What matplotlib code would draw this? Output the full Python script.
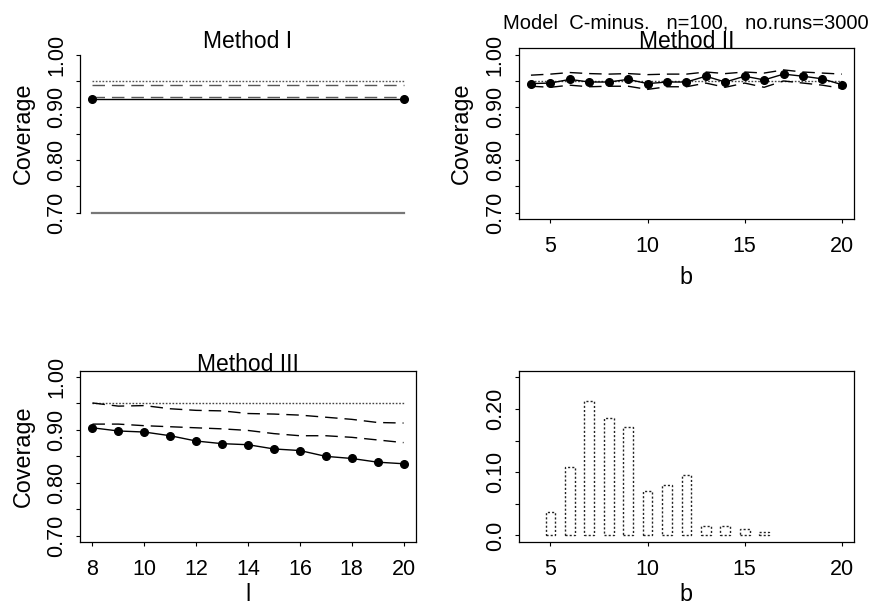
import matplotlib
matplotlib.use("Agg")
import matplotlib.pyplot as plt
import numpy as np

plt.rcParams['font.family'] = ['Liberation Sans', 'DejaVu Sans']

# ---------------- data ----------------
main_title = "Model  C-minus.   n=100,   no.runs=3000"
titles = ["Method I", "Method II", "Method III"]

# Method I (constant over l)
l_I = [8, 20]
nominal_I = [0.95, 0.95]
upper_I = [0.942, 0.942]
lower_I = [0.920, 0.920]
cov_I = [0.916, 0.916]
base_I = [0.70, 0.70]

# Method II (over b)
b_II = [4, 5, 6, 7, 8, 9, 10, 11, 12, 13, 14, 15, 16, 17, 18, 19, 20]
cov_II = [0.945, 0.946, 0.953, 0.948, 0.948, 0.953, 0.945, 0.948, 0.948,
          0.959, 0.948, 0.959, 0.952, 0.963, 0.959, 0.954, 0.943]
upper_II = [0.961, 0.963, 0.966, 0.964, 0.963, 0.964, 0.962, 0.963, 0.963,
            0.967, 0.964, 0.967, 0.965, 0.971, 0.967, 0.965, 0.963]
lower_II = [0.940, 0.938, 0.942, 0.939, 0.940, 0.940, 0.934, 0.939, 0.939,
            0.946, 0.938, 0.946, 0.938, 0.950, 0.946, 0.942, 0.936]
nominal_II = [0.95] * 17

# Method III (over l)
l_III = [8, 9, 10, 11, 12, 13, 14, 15, 16, 17, 18, 19, 20]
cov_III = [0.904, 0.898, 0.896, 0.889, 0.879, 0.874, 0.872, 0.864, 0.861,
           0.850, 0.846, 0.839, 0.836]
upper_III = [0.951, 0.945, 0.946, 0.940, 0.937, 0.936, 0.931, 0.930, 0.928,
             0.924, 0.920, 0.914, 0.913]
lower_III = [0.911, 0.911, 0.908, 0.906, 0.904, 0.902, 0.899, 0.893, 0.889,
             0.889, 0.886, 0.881, 0.876]
nominal_III = [0.95] * 13

# Frequency of chosen b
b_freq = [4, 5, 6, 7, 8, 9, 10, 11, 12, 13, 14, 15, 16, 17, 18, 19, 20]
freq = [0.0, 0.037, 0.108, 0.212, 0.185, 0.171, 0.070, 0.080, 0.095,
        0.015, 0.015, 0.010, 0.005, 0.0, 0.0, 0.0, 0.0]

cov_ticks = [0.70, 0.75, 0.80, 0.85, 0.90, 0.95, 1.00]
cov_ticklabels = ["0.70", "", "0.80", "", "0.90", "", "1.00"]
freq_ticks = [0.0, 0.05, 0.10, 0.15, 0.20, 0.25]
freq_ticklabels = ["0.0", "", "0.10", "", "0.20", ""]
b_ticks = [5, 10, 15, 20]
l_ticks = [8, 10, 12, 14, 16, 18, 20]

# ---------------- figure ----------------
W, H = 876, 607
fig = plt.figure(figsize=(W / 100, H / 100), dpi=100)

def rect(x0, y0, x1, y1):
    return [x0 / W, 1 - y1 / H, (x1 - x0) / W, (y1 - y0) / H]

ax1 = fig.add_axes(rect(80, 48.3, 416, 219))
ax2 = fig.add_axes(rect(518.5, 48.3, 854.3, 219))
ax3 = fig.add_axes(rect(80, 370.7, 416, 542))
ax4 = fig.add_axes(rect(518.5, 370.7, 854.3, 542))

TICK_FS = 15.5
LAB_FS = 16.8
TITLE_FS = 16.5
DASH = (0, (9, 5))
DOT = (0, (1.2, 1.2))

def style(ax):
    for s in ax.spines.values():
        s.set_linewidth(0.9)
        s.set_color('black')
    ax.tick_params(direction='out', length=2.6, width=0.8, labelsize=TICK_FS)
    ax.tick_params(axis='x', pad=9.5)
    ax.tick_params(axis='y', labelrotation=90, pad=6.5)
    for t in ax.get_yticklabels():
        t.set_va('center')

def cov_axis(ax, ylabel=True):
    ax.set_ylim(0.688, 1.012)
    ax.set_yticks(cov_ticks)
    ax.set_yticklabels(cov_ticklabels)
    if ylabel:
        ax.set_ylabel("Coverage", fontsize=LAB_FS)
        ax.yaxis.set_label_coords(-0.17, 0.5)
        ax.yaxis.label.set_va('center')

def title(ax, txt):
    ax.text(0.5, 1.0, txt, transform=ax.transAxes, ha='center',
            va='baseline', fontsize=TITLE_FS)

def bottom_label(ax, txt, y_px_bottom=606):
    # place x-label so that it ends at the bottom edge of the figure
    ax.set_xlabel(txt, fontsize=LAB_FS)
    pos = ax.get_position()
    ax_h_px = pos.height * H
    ax_bottom_px = (1 - pos.y0) * H
    ax.xaxis.set_label_coords(0.5, -(y_px_bottom - ax_bottom_px) / ax_h_px)
    ax.xaxis.label.set_va('bottom')

# Panel 1: Method I
ax1.plot(l_I, base_I, color='#777777', lw=1.6)
ax1.plot(l_I, nominal_I, color='#555555', lw=1, linestyle=DOT)
ax1.plot(l_I, upper_I, color='#555555', lw=1, linestyle=DASH)
ax1.plot(l_I, lower_I, color='#555555', lw=1, linestyle=DASH)
ax1.plot(l_I, cov_I, color='black', lw=1, marker='o', ms=5.5)
ax1.set_xlim(7.52, 20.48)
cov_axis(ax1)
style(ax1)
for side in ['top', 'right', 'bottom']:
    ax1.spines[side].set_visible(False)
ax1.spines['left'].set_bounds(0.70, 1.00)
ax1.set_xticks([])
title(ax1, titles[0])

# Panel 2: Method II
ax2.plot(b_II, nominal_II, color='#444444', lw=1, linestyle=DOT)
ax2.plot(b_II, upper_II, color='black', lw=1, linestyle=DASH)
ax2.plot(b_II, lower_II, color='black', lw=1, linestyle=DASH)
ax2.plot(b_II, cov_II, color='black', lw=1, marker='o', ms=5.5)
ax2.set_xlim(3.36, 20.64)
ax2.set_xticks(b_ticks)
cov_axis(ax2)
style(ax2)
ax2.set_xlabel("b", fontsize=LAB_FS)
ax2.xaxis.set_label_coords(0.5, -0.345)
ax2.xaxis.label.set_va('center')
title(ax2, titles[1])

# Panel 3: Method III
ax3.plot(l_III, nominal_III, color='#444444', lw=1, linestyle=DOT)
ax3.plot(l_III, upper_III, color='black', lw=1, linestyle=DASH)
ax3.plot(l_III, lower_III, color='black', lw=1, linestyle=DASH)
ax3.plot(l_III, cov_III, color='black', lw=1, marker='o', ms=5.5)
ax3.set_xlim(7.52, 20.48)
ax3.set_xticks(l_ticks)
cov_axis(ax3)
style(ax3)
bottom_label(ax3, "l")
title(ax3, titles[2])

# Panel 4: frequency of b
bf = np.array(b_freq)
fr = np.array(freq)
mask = fr > 0
ax4.bar(bf[mask], fr[mask], width=0.5, fill=False, edgecolor='#222222',
        linewidth=1, linestyle=(0, (1.5, 1.5)))
ax4.set_xlim(3.36, 20.64)
ax4.set_ylim(-0.0104, 0.2604)
ax4.set_xticks(b_ticks)
ax4.set_yticks(freq_ticks)
ax4.set_yticklabels(freq_ticklabels)
style(ax4)
bottom_label(ax4, "b")

fig.text(685.5 / W, 1 - 28.3 / H, main_title, ha='center', va='baseline',
         fontsize=14.5)

fig.savefig("out.png", dpi=100)
